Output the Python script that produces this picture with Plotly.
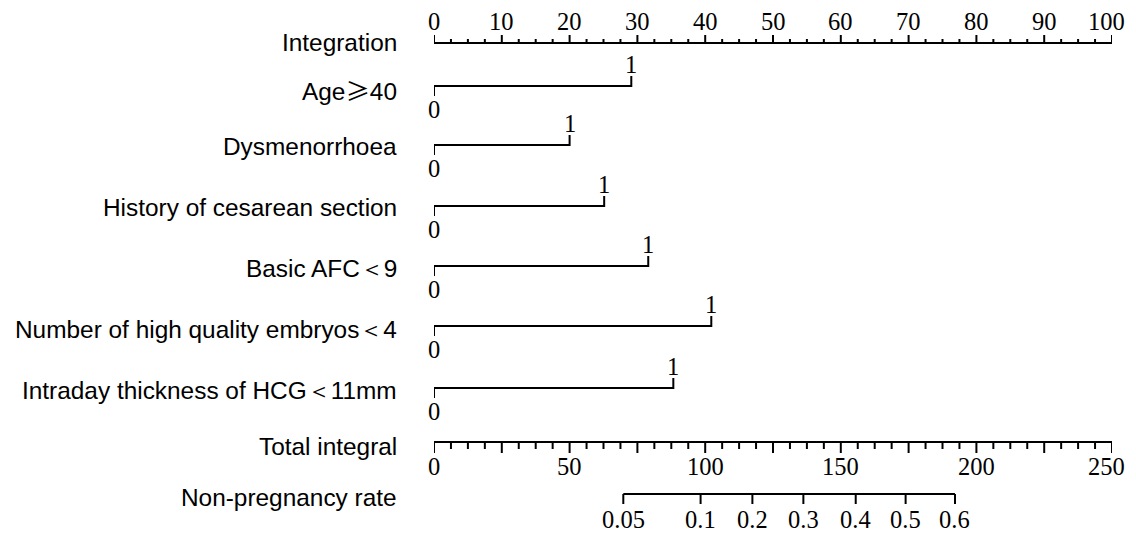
import plotly.graph_objects as go

# ---- data ----
row_labels = ["Integration", "Age<span style=\"font-family:'Noto Sans CJK SC'\">≥</span>40", "Dysmenorrhoea",
              "History of cesarean section", "Basic AFC＜9",
              "Number of high quality embryos＜4", "Intraday thickness of HCG＜11mm",
              "Total integral", "Non-pregnancy rate"]
variables = ["Age≥40", "Dysmenorrhoea", "History of cesarean section", "Basic AFC＜9",
             "Number of high quality embryos＜4", "Intraday thickness of HCG＜11mm"]
variable_points = [29.1, 20.0, 25.1, 31.6, 40.9, 35.3]   # points for level "1" (level "0" = 0)
points_ticks = [0, 10, 20, 30, 40, 50, 60, 70, 80, 90, 100]
total_ticks = [0, 50, 100, 150, 200, 250]
rate_labels = ["0.05", "0.1", "0.2", "0.3", "0.4", "0.5", "0.6"]
rate_total_points = [69.8, 98.3, 117.4, 136.2, 155.5, 173.9, 192.1]

# ---- layout (vertical row positions in page-pixel-like units) ----
row_y = [43, 86, 145, 206, 266, 326, 388, 442, 494]
PAGE_OFF = 8            # default body margin of the html page
W, H = 1136 - PAGE_OFF, 535 - PAGE_OFF
LW = 2
serif = dict(family="Liberation Serif, Times New Roman, serif", size=24.5, color="black")
sans = dict(family="Liberation Sans, Arial, sans-serif", size=24.4, color="black")

fig = go.Figure()
annotations = []

def seg_trace(xs, ys, axis="x"):
    fig.add_trace(go.Scatter(x=xs, y=ys, mode="lines", xaxis=axis, yaxis="y",
                             line=dict(color="black", width=LW), hoverinfo="skip",
                             showlegend=False, cliponaxis=False))

def edge_kw(is_last):
    # keep the right-most tick label inside the page
    return dict(xanchor="right", xshift=15) if is_last else dict(xanchor="center")

# --- Points axis (top) ---
y0 = row_y[0]
xs, ys = [0, 100, None], [y0, y0, None]
n_minor = int(100 / 2.5)
for i in range(n_minor + 1):
    v = i * 2.5
    L = 8 if abs(v % 10) < 1e-9 else 4
    xs += [v, v, None]
    ys += [y0, y0 - L, None]
seg_trace(xs, ys)
for t in points_ticks:
    annotations.append(dict(x=t, y=y0, xref="x", yref="y", text=str(t), showarrow=False,
                            yanchor="bottom", yshift=6, font=serif,
                            **edge_kw(t == points_ticks[-1])))

# --- Variable rows ---
for k, pts in enumerate(variable_points):
    y = row_y[k + 1]
    seg_trace([0, 0, pts, pts], [y + 10, y, y, y - 10])
    annotations.append(dict(x=0, y=y, xref="x", yref="y", text="0", showarrow=False,
                            xanchor="center", yanchor="top", yshift=-8, font=serif))
    annotations.append(dict(x=pts, y=y, xref="x", yref="y", text="1", showarrow=False,
                            xanchor="center", yanchor="bottom", yshift=6, font=serif))

# --- Total points axis ---
yt = row_y[7]
xs, ys = [0, 250, None], [yt, yt, None]
n_minor = int(250 / 6.25)
for i in range(n_minor + 1):
    v = i * 6.25
    L = 11 if abs(v % 25) < 1e-9 else 7
    xs += [v, v, None]
    ys += [yt, yt + L, None]
seg_trace(xs, ys, axis="x2")
for t in total_ticks:
    annotations.append(dict(x=t, y=yt, xref="x2", yref="y", text=str(t), showarrow=False,
                            yanchor="top", yshift=-9, font=serif,
                            **edge_kw(t == total_ticks[-1])))

# --- Non-pregnancy rate axis ---
yr = row_y[8]
xs, ys = [rate_total_points[0], rate_total_points[-1], None], [yr, yr, None]
for v in rate_total_points:
    xs += [v, v, None]
    ys += [yr, yr + 10, None]
seg_trace(xs, ys, axis="x2")
for lab, v in zip(rate_labels, rate_total_points):
    annotations.append(dict(x=v, y=yr, xref="x2", yref="y", text=lab, showarrow=False,
                            xanchor="center", yanchor="top", yshift=-10, font=serif))

# --- Row labels ---
label_shift = [1, -3, -1, -1, -2, -3, -2, -4, -3]
for lab, y, s in zip(row_labels, row_y, label_shift):
    annotations.append(dict(x=-0.052, y=y, xref="paper", yref="y", text=lab, showarrow=False,
                            xanchor="right", yanchor="middle", yshift=s, font=sans))

# plot area: x=0 at page px 434, x=100 at page px 1112
fig.update_layout(
    width=W, height=H,
    margin=dict(l=434 - PAGE_OFF, r=1136 - 1112, t=0, b=0),
    paper_bgcolor="white", plot_bgcolor="white",
    xaxis=dict(range=[0, 100], visible=False, fixedrange=True),
    xaxis2=dict(range=[0, 250], visible=False, overlaying="x", anchor="y", fixedrange=True),
    yaxis=dict(range=[PAGE_OFF + H, PAGE_OFF], visible=False, fixedrange=True),
    annotations=annotations,
    showlegend=False,
)

fig.write_html("out.html")
